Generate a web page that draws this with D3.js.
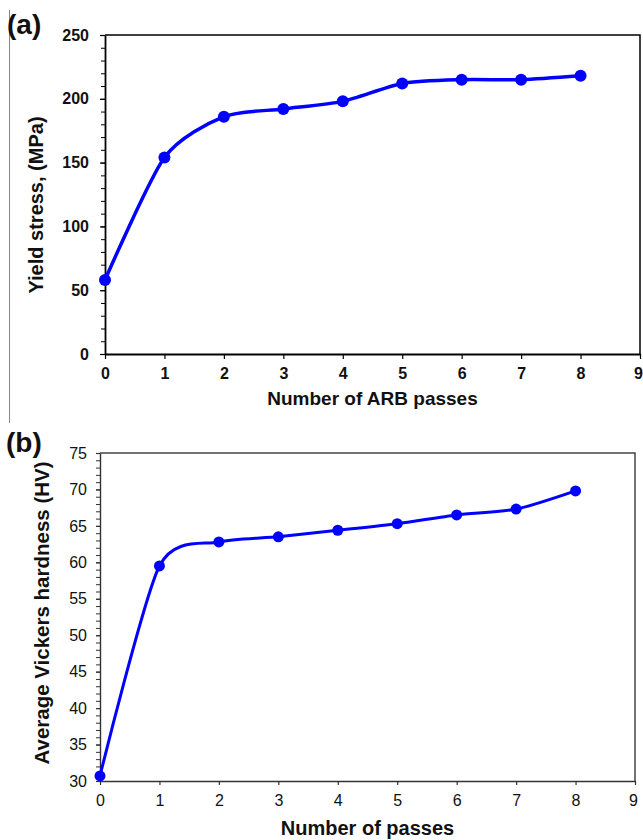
<!DOCTYPE html>
<html>
<head>
<meta charset="utf-8">
<script src="https://cdn.jsdelivr.net/npm/d3@7"></script>
<style>
  html, body { margin: 0; padding: 0; background: #fff; }
  svg { display: block; font-family: Arial, "Liberation Sans", sans-serif; }
</style>
</head>
<body>
<div id="chart"></div>
<script>
// number of ARB passes (same for both panels)
const passes = [0, 1, 2, 3, 4, 5, 6, 7, 8];
// (a) yield stress, MPa
const yieldStress = [58, 154, 186, 192, 198, 212, 215, 215, 218];
// (b) average Vickers hardness, HV
const hardness = [30.7, 59.5, 62.8, 63.5, 64.4, 65.3, 66.5, 67.3, 69.8];

const xTicks = [0, 1, 2, 3, 4, 5, 6, 7, 8, 9];
const yTicksA = [0, 50, 100, 150, 200, 250];
const yTicksB = [30, 35, 40, 45, 50, 55, 60, 65, 70, 75];

const W = 643, H = 840;
const blue = "#0000ff";

const svg = d3.select("#chart").append("svg")
    .attr("width", W).attr("height", H)
    .attr("viewBox", [0, 0, W, H]);

// thin gray rule on the far left of panel (a)
svg.append("line")
    .attr("x1", 9.5).attr("x2", 9.5)
    .attr("y1", 10).attr("y2", 423)
    .attr("stroke", "#888").attr("stroke-width", 1);

function drawPanel(p) {
    const x = d3.scaleLinear().domain([0, 9]).range([p.left, p.right]);
    const y = d3.scaleLinear().domain(p.yDomain).range([p.bottom, p.top]);
    const g = svg.append("g");

    // top and right frame
    g.append("path")
        .attr("d", `M${p.left},${p.top}H${p.right}V${p.bottom}`)
        .attr("fill", "none")
        .attr("stroke", p.frameColor)
        .attr("stroke-width", 1.5);

    // minor y ticks
    g.append("g")
        .attr("transform", `translate(${p.left},0)`)
        .call(d3.axisLeft(y).tickValues(p.yMinor).tickSize(4).tickFormat("").tickSizeOuter(0))
        .call(s => s.select(".domain").remove())
        .call(s => s.selectAll("line").attr("stroke", p.axisColor).attr("stroke-width", 1));

    const yAxis = g.append("g")
        .attr("transform", `translate(${p.left},0)`)
        .call(d3.axisLeft(y).tickValues(p.yTicks).tickSize(p.tickLen).tickPadding(p.yPad).tickSizeOuter(0));

    const xAxis = g.append("g")
        .attr("transform", `translate(0,${p.bottom})`)
        .call(d3.axisBottom(x).tickValues(xTicks).tickSize(p.tickLen).tickPadding(p.xPad).tickSizeOuter(0));

    [yAxis, xAxis].forEach(a => {
        a.select(".domain").attr("stroke", p.axisColor).attr("stroke-width", p.axisWidth);
        a.selectAll(".tick line").attr("stroke", p.axisColor).attr("stroke-width", 1.2);
        a.selectAll("text")
            .attr("fill", "#111")
            .attr("font-family", "Arial, 'Liberation Sans', sans-serif")
            .attr("font-size", p.tickFont)
            .attr("font-weight", p.tickWeight);
    });
    // last x label sits right at the page edge, as in the original
    xAxis.selectAll(".tick text").filter(d => d === 9).attr("dx", -2);

    // smoothed line like the spreadsheet original
    const line = d3.line()
        .x((d, i) => x(passes[i]))
        .y(d => y(d))
        .curve(d3.curveCardinal.tension(0.25));

    g.append("path")
        .datum(p.values)
        .attr("d", line)
        .attr("fill", "none")
        .attr("stroke", blue)
        .attr("stroke-width", p.lineWidth);

    g.selectAll("circle")
        .data(p.values)
        .join("circle")
        .attr("cx", (d, i) => x(passes[i]))
        .attr("cy", d => y(d))
        .attr("r", p.dotR)
        .attr("fill", blue);

    // axis titles
    g.append("text")
        .attr("x", (p.left + p.right) / 2)
        .attr("y", p.xTitleY)
        .attr("text-anchor", "middle")
        .attr("font-size", p.titleFont)
        .attr("font-weight", "bold")
        .attr("fill", "#111")
        .text(p.xTitle);

    g.append("text")
        .attr("transform", `translate(${p.yTitleX},${p.yTitleY}) rotate(-90)`)
        .attr("text-anchor", "middle")
        .attr("dy", "0.35em")
        .attr("font-size", p.yTitleFont)
        .attr("font-weight", "bold")
        .attr("fill", "#111")
        .text(p.yTitle);

    // panel letter
    svg.append("text")
        .attr("x", p.tagX).attr("y", p.tagY)
        .attr("font-size", 28)
        .attr("font-weight", "bold")
        .attr("fill", "#111")
        .text(p.tag);
}

drawPanel({
    tag: "(a)", tagX: 7, tagY: 34,
    left: 105, right: 640, top: 35, bottom: 354,
    yDomain: [0, 250], yTicks: yTicksA,
    yMinor: d3.range(0, 251, 10),
    values: yieldStress,
    frameColor: "#000", axisColor: "#000", axisWidth: 1.8,
    tickLen: 5, xPad: 9, yPad: 11,
    tickFont: 16, tickWeight: "bold",
    lineWidth: 3.5, dotR: 6,
    titleFont: 19, yTitleFont: 20,
    xTitle: "Number of ARB passes", xTitleY: 405,
    yTitle: "Yield stress, (MPa)", yTitleX: 36, yTitleY: 205
});

drawPanel({
    tag: "(b)", tagX: 6, tagY: 452,
    left: 100, right: 635, top: 453, bottom: 781,
    yDomain: [30, 75], yTicks: yTicksB,
    yMinor: d3.range(30, 75.5, 1),
    values: hardness,
    frameColor: "#444", axisColor: "#333", axisWidth: 1.4,
    tickLen: 4, xPad: 10, yPad: 9,
    tickFont: 16, tickWeight: "normal",
    lineWidth: 3, dotR: 5.5,
    titleFont: 20, yTitleFont: 20.5,
    xTitle: "Number of passes", xTitleY: 835,
    yTitle: "Average Vickers hardness (HV)", yTitleX: 42, yTitleY: 613
});
</script>
</body>
</html>
